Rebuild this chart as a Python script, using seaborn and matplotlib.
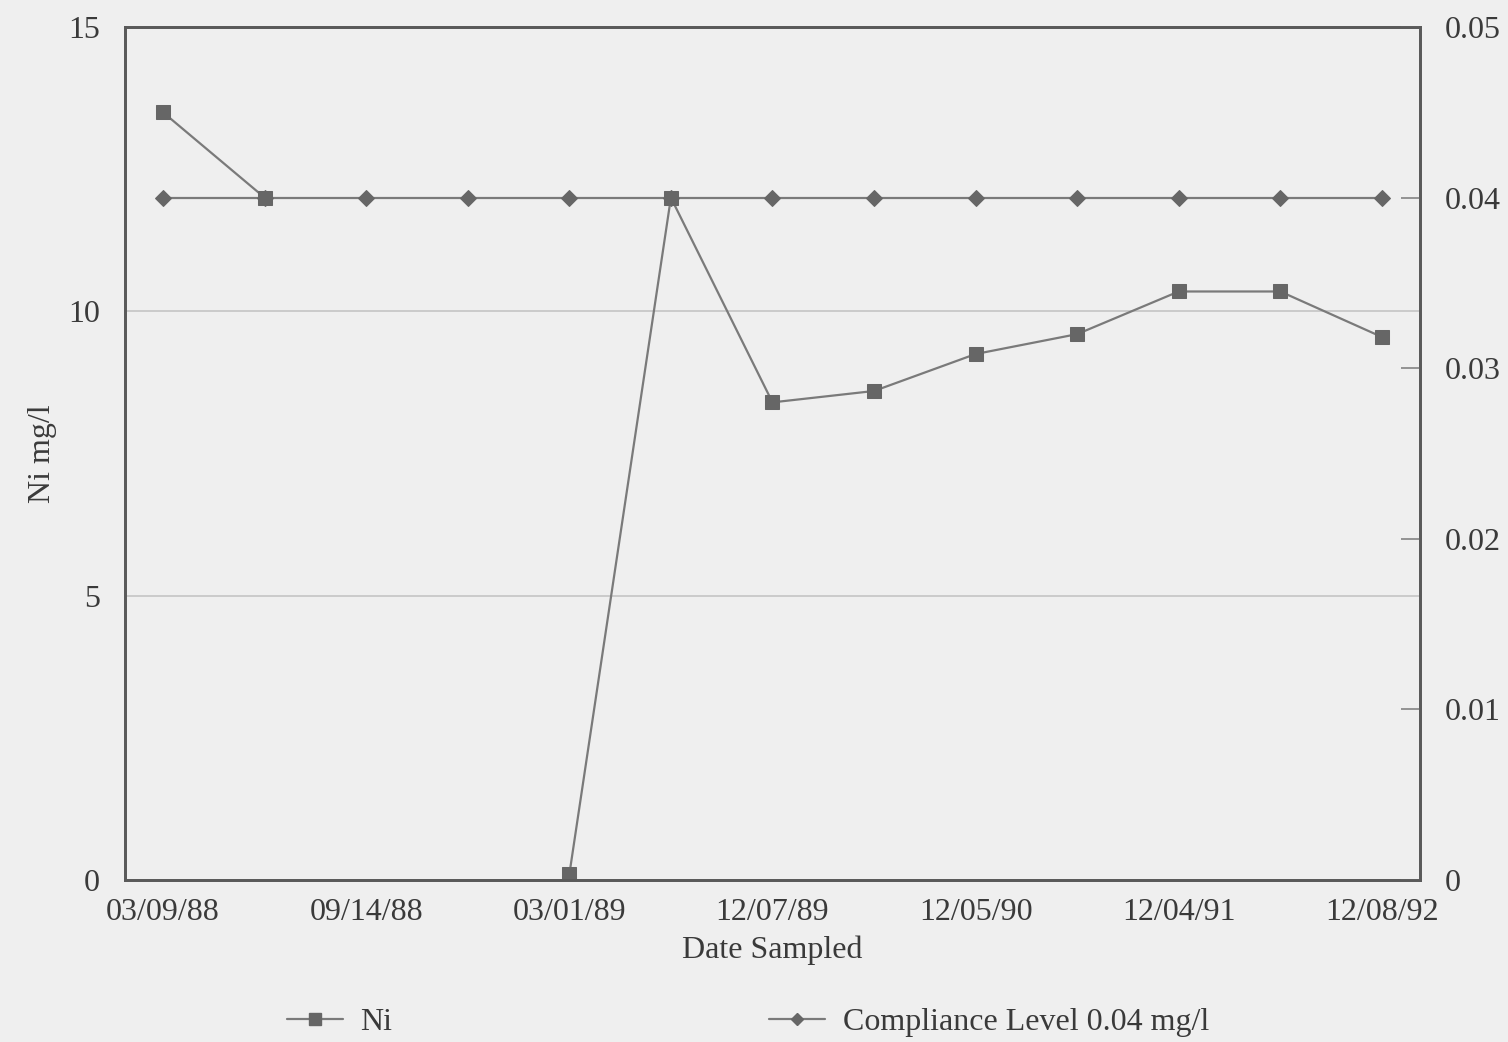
import numpy as np
import pandas as pd
import matplotlib
matplotlib.use("Agg")
import matplotlib.pyplot as plt
import seaborn as sns
from matplotlib.lines import Line2D

# ---- data ----
date_labels = ["03/09/88", "", "09/14/88", "", "03/01/89", "", "12/07/89",
               "", "12/05/90", "", "12/04/91", "", "12/08/92"]
ni_values = [13.5, 12.0, np.nan, np.nan, 0.1, 12.0, 8.4, 8.6, 9.25, 9.6, 10.35, 10.35, 9.55]
compliance_values = [0.04] * 13
left_ticks = [0, 5, 10, 15]
right_ticks = [0, 0.01, 0.02, 0.03, 0.04, 0.05]
right_tick_labels = ["0", "0.01", "0.02", "0.03", "0.04", "0.05"]

sns.set_theme(style="white")
plt.rcParams["font.family"] = ["Liberation Serif", "DejaVu Serif"]

BG = "#efefef"
LINE = "#7a7a7a"
MARK = "#666666"
TXT = "#3a3a3a"
FS = 23

idx = np.arange(len(date_labels))
seg = np.cumsum(np.isnan(np.array(ni_values, dtype=float)))
ni_df = pd.DataFrame({"x": idx, "ni": ni_values, "seg": seg}).dropna()
comp_df = pd.DataFrame({"x": idx, "comp": compliance_values})

fig = plt.figure(figsize=(15.08, 10.42), dpi=100, facecolor=BG)
ax = fig.add_axes([0.0829, 0.1555, 0.8587, 0.8185])
ax.set_facecolor(BG)

sns.lineplot(data=ni_df, x="x", y="ni", units="seg", estimator=None, ax=ax,
             color=LINE, lw=1.6, marker="s", markersize=10,
             markerfacecolor=MARK, markeredgecolor=MARK, legend=False)
ax.set_xlim(-0.375, 12.375)
ax.set_ylim(0, 15)
ax.set_yticks(left_ticks)
ax.set_yticklabels([str(t) for t in left_ticks], fontsize=FS, color=TXT)
ax.set_xticks(idx)
ax.set_xticklabels(date_labels, fontsize=FS, color=TXT)
for v in [5, 10]:
    ax.axhline(v, color="#c4c4c4", lw=1.2, zorder=0)
ax.set_xlabel("Date Sampled", fontsize=FS, color=TXT, labelpad=6)
ax.set_ylabel("Ni mg/l", fontsize=FS, color=TXT, labelpad=8)
ax.tick_params(axis="x", direction="in", length=6, color="#777777", pad=13)
ax.tick_params(axis="y", length=0, pad=18)

ax2 = ax.twinx()
sns.lineplot(data=comp_df, x="x", y="comp", ax=ax2, color=LINE, lw=1.6,
             marker="D", markersize=8, markerfacecolor=MARK,
             markeredgecolor=MARK, legend=False)
ax2.set_ylim(0, 0.05)
ax2.set_yticks(right_ticks)
ax2.set_yticklabels(right_tick_labels, fontsize=FS, color=TXT)
ax2.set_ylabel("")
ax2.tick_params(axis="y", direction="in", length=14, color="#888888", pad=18)

for a in (ax, ax2):
    for s in a.spines.values():
        s.set_color("#5a5a5a")
        s.set_linewidth(2)

h1 = Line2D([], [], color=LINE, lw=1.6, marker="s", markersize=8,
            markerfacecolor=MARK, markeredgecolor=MARK)
h2 = Line2D([], [], color=LINE, lw=1.6, marker="D", markersize=6,
            markerfacecolor=MARK, markeredgecolor=MARK)
leg = fig.legend([h1, h2], ["Ni", "Compliance Level 0.04 mg/l"], ncol=2,
                 loc="center left", bbox_to_anchor=(0.171, 0.019), frameon=False,
                 fontsize=FS, handlelength=1.75, handletextpad=0.55,
                 columnspacing=11.8, labelcolor=TXT)

fig.savefig("out.png", dpi=100, facecolor=BG)
